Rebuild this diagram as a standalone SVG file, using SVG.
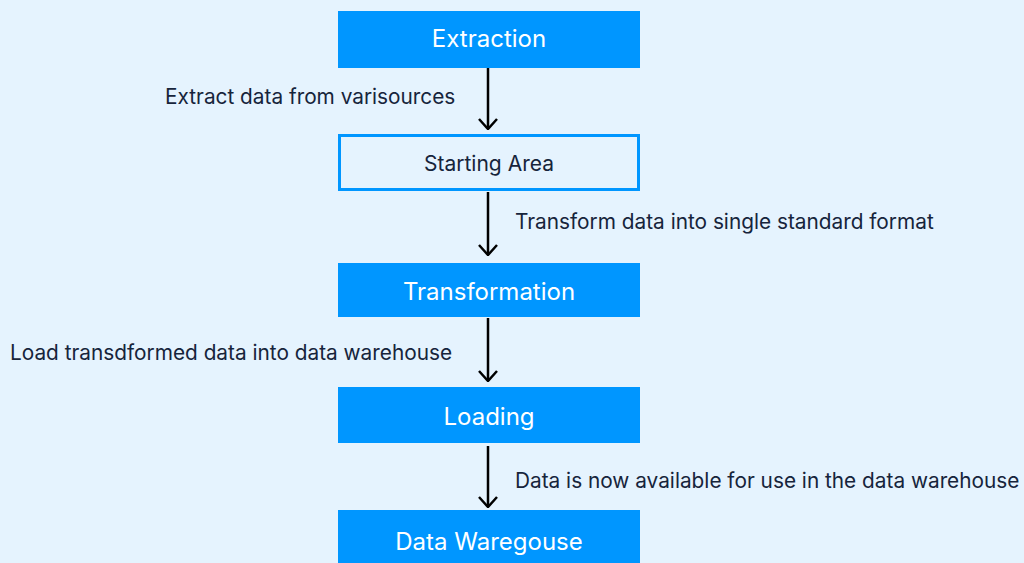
<svg xmlns="http://www.w3.org/2000/svg" width="1024" height="563" viewBox="0 0 1024 563">
<style>
.bg{fill:#E5F3FE}
.box{fill:#0096FF}
.obox{fill:#E5F3FE;stroke:#0096FF;stroke-width:3}
.t{font-family:Inter,"Open Sans",sans-serif;font-size:24px;fill:#FFFFFF;text-anchor:middle;dominant-baseline:central}
.t2{font-family:Inter,"Open Sans",sans-serif;font-size:21px;fill:#16243B;text-anchor:middle;dominant-baseline:central}
.lbl{font-family:Inter,"Open Sans",sans-serif;font-size:20.8px;fill:#16243B}
.conn{stroke:#000;stroke-width:2.5;fill:none}
</style>
<defs>
<marker id="ah" viewBox="0 0 12 20" refX="11" refY="10" markerWidth="12" markerHeight="20" markerUnits="userSpaceOnUse" orient="auto">
<path d="M1,1 L11,10 L1,19" fill="none" stroke="#000" stroke-width="2.5"/>
</marker>
</defs>
<rect class="bg" x="0" y="0" width="1024" height="563"/>
<g id="extraction"><rect class="box" x="338" y="11" width="302" height="57"/><text class="t" x="489" y="38">Extraction</text></g>
<g id="starting-area"><rect class="obox" x="339.5" y="135.5" width="299" height="54"/><text class="t2" x="489" y="163">Starting Area</text></g>
<g id="transformation"><rect class="box" x="338" y="263" width="302" height="54"/><text class="t" x="489" y="291">Transformation</text></g>
<g id="loading"><rect class="box" x="338" y="387" width="302" height="56"/><text class="t" x="489" y="416">Loading</text></g>
<g id="data-warehouse"><rect class="box" x="338" y="510" width="302" height="60"/><text class="t" x="489" y="541">Data Waregouse</text></g>
<g id="connectors">
<line class="conn" x1="488" y1="68" x2="488" y2="129" marker-end="url(#ah)"/>
<line class="conn" x1="488" y1="192" x2="488" y2="255" marker-end="url(#ah)"/>
<line class="conn" x1="488" y1="318" x2="488" y2="381" marker-end="url(#ah)"/>
<line class="conn" x1="488" y1="446" x2="488" y2="507" marker-end="url(#ah)"/>
<text class="lbl" x="165" y="104">Extract data from varisources</text>
<text class="lbl" x="515" y="229">Transform data into single standard format</text>
<text class="lbl" x="10" y="360">Load transdformed data into data warehouse</text>
<text class="lbl" x="515" y="488">Data is now available for use in the data warehouse</text>
</g>
</svg>
